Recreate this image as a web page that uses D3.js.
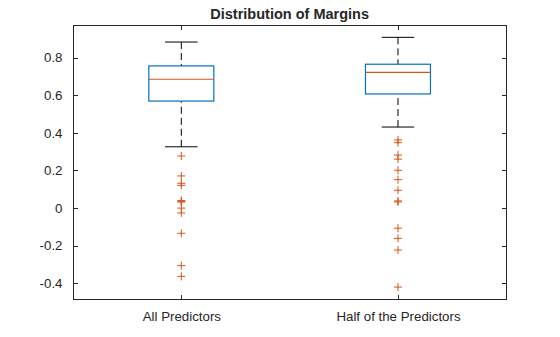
<!DOCTYPE html>
<html>
<head>
<meta charset="utf-8">
<script src="https://cdn.jsdelivr.net/npm/d3@7"></script>
<style>
  body { margin: 0; background: #fff; }
  svg { display: block; }
  text { font-family: "Liberation Sans", Arial, Helvetica, sans-serif; fill: #262626; }
</style>
</head>
<body>
<svg id="chart" width="560" height="337"></svg>
<script>
// ---- data ----
const categories = ["All Predictors", "Half of the Predictors"];
const whiskerLow  = [0.326, 0.431];
const q1          = [0.569, 0.607];
const median      = [0.685, 0.722];
const q3          = [0.756, 0.765];
const whiskerHigh = [0.883, 0.908];
const outliersAll  = [0.277, 0.171, 0.132, 0.121, 0.040, 0.036, 0.032, 0.000, -0.026, -0.134, -0.306, -0.363];
const outliersHalf = [0.362, 0.348, 0.282, 0.260, 0.201, 0.151, 0.095, 0.038, 0.033, -0.107, -0.161, -0.223, -0.420];
const outliers = [outliersAll, outliersHalf];
const yTicks = [-0.4, -0.2, 0, 0.2, 0.4, 0.6, 0.8];
const yTickLabels = ["-0.4", "-0.2", "0", "0.2", "0.4", "0.6", "0.8"];
const title = "Distribution of Margins";

// ---- layout ----
const L = 73, R = 506.3, T = 25.3, B = 299.3;
const svg = d3.select("#chart");
const x = d3.scaleLinear().domain([0.5, 2.5]).range([L, R]);
const y = d3.scaleLinear().domain([-0.485, 0.972]).range([B, T]);
const axisColor = "#262626";
const blue = "#0072BD", orange = "#D95319";
const tickLen = 4.5;

// axes box
svg.append("rect").attr("x", L).attr("y", T).attr("width", R - L).attr("height", B - T)
  .attr("fill", "none").attr("stroke", axisColor).attr("stroke-width", 1).attr("shape-rendering", "crispEdges");

// y axis (left) with inward ticks
const yAxisL = d3.axisLeft(y).tickValues(yTicks).tickSize(-tickLen).tickPadding(tickLen + 6)
  .tickFormat((d, i) => yTickLabels[i]);
const gyl = svg.append("g").attr("transform", `translate(${L},0)`).call(yAxisL);
const yAxisR = d3.axisRight(y).tickValues(yTicks).tickSize(-tickLen).tickFormat("");
const gyr = svg.append("g").attr("transform", `translate(${R},0)`).call(yAxisR);

// x axis bottom & top with inward ticks
const xAxisB = d3.axisBottom(x).tickValues([1, 2]).tickSize(-tickLen).tickPadding(tickLen + 8)
  .tickFormat((d) => categories[d - 1]);
const gxb = svg.append("g").attr("transform", `translate(0,${B})`).call(xAxisB);
const xAxisT = d3.axisTop(x).tickValues([1, 2]).tickSize(-tickLen).tickFormat("");
const gxt = svg.append("g").attr("transform", `translate(0,${T})`).call(xAxisT);

[gyl, gyr, gxb, gxt].forEach(g => {
  g.select(".domain").remove();
  g.selectAll(".tick line").attr("stroke", axisColor).attr("shape-rendering", "crispEdges");
  g.selectAll(".tick text").attr("fill", axisColor)
    .style("font-family", '"Liberation Sans", Arial, sans-serif').style("font-size", "13.3px");
});

// title
svg.append("text").attr("x", (L + R) / 2).attr("y", 18.5).attr("text-anchor", "middle")
  .style("font-size", "14.5px").style("font-weight", "bold").text(title);

// boxes
const halfBox = (x(1.15) - x(0.85)) / 2;
const halfCap = (x(1.075) - x(0.925)) / 2;
const plot = svg.append("g");

categories.forEach((c, i) => {
  const cx = x(i + 1);
  // whiskers (drawn from cap toward box)
  plot.append("line").attr("x1", cx).attr("x2", cx).attr("y1", y(whiskerHigh[i])).attr("y2", y(q3[i]))
    .attr("stroke", "#000").attr("stroke-width", 1).attr("stroke-dasharray", "7,4");
  plot.append("line").attr("x1", cx).attr("x2", cx).attr("y1", y(whiskerLow[i])).attr("y2", y(q1[i]))
    .attr("stroke", "#000").attr("stroke-width", 1).attr("stroke-dasharray", "7,4");
  // caps
  [whiskerHigh[i], whiskerLow[i]].forEach(v => {
    plot.append("line").attr("x1", cx - halfCap).attr("x2", cx + halfCap).attr("y1", y(v)).attr("y2", y(v))
      .attr("stroke", "#000").attr("stroke-width", 1);
  });
  // box
  plot.append("rect").attr("x", cx - halfBox).attr("y", y(q3[i]))
    .attr("width", 2 * halfBox).attr("height", y(q1[i]) - y(q3[i]))
    .attr("fill", "none").attr("stroke", blue).attr("stroke-width", 1.2);
  // median
  plot.append("line").attr("x1", cx - halfBox).attr("x2", cx + halfBox).attr("y1", y(median[i])).attr("y2", y(median[i]))
    .attr("stroke", orange).attr("stroke-width", 1.2);
  // outliers
  const pts = plot.append("g");
  outliers[i].forEach(v => {
    const py = y(v);
    pts.append("path").attr("d", `M${cx - 4},${py}H${cx + 4}M${cx},${py - 4}V${py + 4}`)
      .attr("stroke", orange).attr("stroke-width", 1).attr("fill", "none");
  });
});
</script>
</body>
</html>
